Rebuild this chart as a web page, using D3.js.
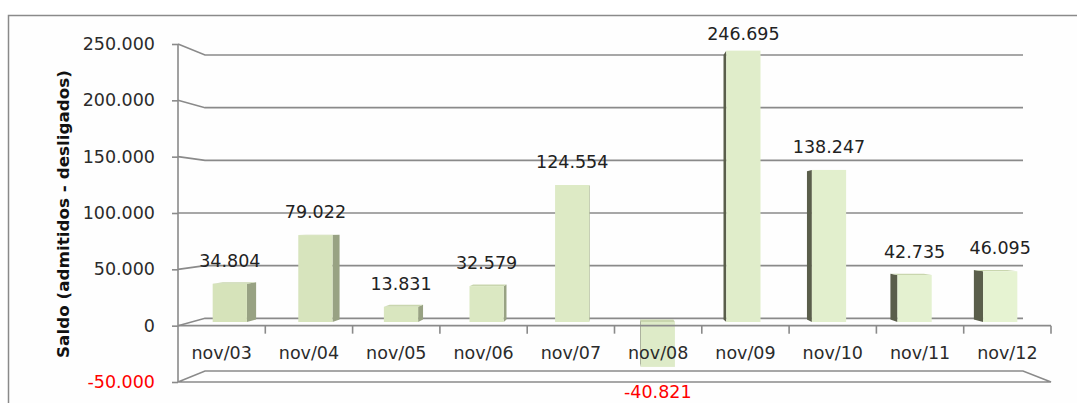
<!DOCTYPE html>
<html>
<head>
<meta charset="utf-8">
<script src="https://cdn.jsdelivr.net/npm/d3@7"></script>
<style>
  body { margin: 0; background: #fff; }
  text { font-family: "DejaVu Sans", sans-serif; }
</style>
</head>
<body>
<div id="chart-holder"></div>
<script>
// data
var categories = ["nov/03", "nov/04", "nov/05", "nov/06", "nov/07", "nov/08", "nov/09", "nov/10", "nov/11", "nov/12"];
var saldo = [34804, 79022, 13831, 32579, 124554, -40821, 246695, 138247, 42735, 46095];
var yTicks = [-50000, 0, 50000, 100000, 150000, 200000, 250000];
var yTitle = "Saldo (admitidos - desligados)";

var W = 1077, H = 403;

var svg = d3.select("#chart-holder")
  .append("svg")
  .attr("width", W)
  .attr("height", H);

// brazilian number format: 250.000, plain hyphen for minus
var br = d3.formatLocale({ decimal: ",", thousands: ".", grouping: [3], currency: ["R$", ""], minus: "-" });
var fmt = br.format(",d");

// outer frame
svg.append("rect")
  .attr("x", 8.5).attr("y", 15.5)
  .attr("width", 1100).attr("height", 420)
  .attr("fill", "#fefefe")
  .attr("stroke", "#8a8a8a")
  .attr("stroke-width", 1.5);

///////////////////////////////////////////////////////////////////////////////////////////
// scales: front plane, back wall, and the bars (which sit in between)
var yFront = d3.scaleLinear().domain([-50000, 250000]).range([382, 44]);
var yBack = d3.scaleLinear().domain([-50000, 250000]).range([371, 55]);
var yBar = d3.scaleLinear().domain([-50000, 250000]).range([377, 47]);

var xFront = d3.scaleBand().domain(categories).range([178, 1051]);
var xBack = [205, 1023];
var xBar = d3.scaleBand().domain(categories).range([187, 1043])
  .paddingInner(0.6).paddingOuter(0.3);

// perspective: vanishing point and depth ratio of a bar
var vx = 615, vy = 221, r = 0.975;
function bx(x) { return vx + r * (x - vx); }
function by(y) { return vy + r * (y - vy); }

var gridColor = "#8a8a8a";

///////////////////////////////////////////////////////////////////////////////////////////
// back wall gridlines (with the slanted join to the front axis)
var grid = svg.append("g");
grid.selectAll("path")
  .data(yTicks)
  .enter()
  .append("path")
  .attr("d", function (d) {
    var p = "M" + xFront.range()[0] + "," + yFront(d) +
      "L" + xBack[0] + "," + yBack(d) +
      "L" + xBack[1] + "," + yBack(d);
    if (d === yTicks[0]) {
      // floor edge comes back to the front on the right
      p += "L" + xFront.range()[1] + "," + yFront(d) + "L" + xFront.range()[0] + "," + yFront(d);
    }
    return p;
  })
  .attr("fill", "none")
  .attr("stroke", gridColor)
  .attr("stroke-width", 1.6);

///////////////////////////////////////////////////////////////////////////////////////////
// bars
var faceColor = d3.scaleLinear().domain([200, 1020]).range(["#d5e2b9", "#e6f3d3"]);
var bars = svg.append("g");

saldo.forEach(function (v, i) {
  var c = categories[i];
  var x0 = xBar(c), x1 = x0 + xBar.bandwidth();
  var yt = yBar(Math.max(v, 0)), yb = yBar(Math.min(v, 0));
  var cx = (x0 + x1) / 2;

  // side face
  var sx = cx < vx ? x1 : x0;
  bars.append("polygon")
    .attr("points", [[sx, yt], [bx(sx), by(yt)], [bx(sx), by(yb)], [sx, yb]].join(" "))
    .attr("fill", cx < vx ? "#98a283" : "#5a5e4b");

  // top face
  if (yt > vy) {
    bars.append("polygon")
      .attr("points", [[x0, yt], [x1, yt], [bx(x1), by(yt)], [bx(x0), by(yt)]].join(" "))
      .attr("fill", "#c9d6ae");
  }

  // front face
  bars.append("rect")
    .attr("x", x0)
    .attr("y", yt)
    .attr("width", x1 - x0)
    .attr("height", yb - yt)
    .attr("fill", faceColor(cx));
});

///////////////////////////////////////////////////////////////////////////////////////////
// front axes
var axisG = svg.append("g");

// vertical axis line
axisG.append("line")
  .attr("x1", xFront.range()[0]).attr("x2", xFront.range()[0])
  .attr("y1", yFront(250000)).attr("y2", yFront(-50000))
  .attr("stroke", gridColor).attr("stroke-width", 1.6);

// category axis line at zero
axisG.append("line")
  .attr("x1", xFront.range()[0]).attr("x2", xFront.range()[1])
  .attr("y1", yFront(0)).attr("y2", yFront(0))
  .attr("stroke", gridColor).attr("stroke-width", 1.6);

// category ticks at the band edges
var edges = categories.map(function (c) { return xFront(c); }).concat([xFront.range()[1]]);
axisG.selectAll("line.ctick")
  .data(edges.slice(1))
  .enter()
  .append("line")
  .attr("class", "ctick")
  .attr("x1", function (d) { return d; }).attr("x2", function (d) { return d; })
  .attr("y1", yFront(0)).attr("y2", yFront(0) + 8)
  .attr("stroke", gridColor).attr("stroke-width", 1.6);

// y axis ticks + labels
var yAxis = svg.append("g")
  .attr("transform", "translate(" + xFront.range()[0] + ",0)")
  .call(d3.axisLeft(yFront).tickValues(yTicks).tickFormat(fmt).tickSize(6).tickPadding(17));
yAxis.select(".domain").remove();
yAxis.selectAll(".tick line").attr("stroke", gridColor).attr("stroke-width", 1.6);
yAxis.selectAll(".tick text")
  .style("font-family", "DejaVu Sans, sans-serif")
  .style("font-size", "17.5px")
  .attr("fill", function (d) { return d < 0 ? "#ff0000" : "#2b2b2b"; });

// category labels
var xAxis = svg.append("g")
  .attr("transform", "translate(0," + yFront(0) + ")")
  .call(d3.axisBottom(xFront).tickSize(0).tickPadding(21));
xAxis.select(".domain").remove();
xAxis.selectAll(".tick text")
  .style("font-family", "DejaVu Sans, sans-serif")
  .style("font-size", "17.5px")
  .attr("fill", "#2b2b2b");

///////////////////////////////////////////////////////////////////////////////////////////
// value labels
svg.append("g")
  .selectAll("text")
  .data(saldo)
  .enter()
  .append("text")
  .attr("x", function (d, i) { return xBar(categories[i]) + xBar.bandwidth() / 2; })
  .attr("y", function (d) {
    return d < 0 ? yBar(d) + 31 : Math.max(40, yBar(d) - 17);
  })
  .attr("text-anchor", "middle")
  .style("font-size", "17.5px")
  .attr("fill", function (d) { return d < 0 ? "#ff0000" : "#222"; })
  .text(function (d) { return fmt(d); });

// axis title
svg.append("text")
  .attr("transform", "translate(69,214)rotate(-90)")
  .attr("text-anchor", "middle")
  .attr("textLength", 288)
  .attr("lengthAdjust", "spacingAndGlyphs")
  .style("font-size", "16px")
  .style("font-weight", "bold")
  .attr("fill", "#111")
  .text(yTitle);
</script>
</body>
</html>
